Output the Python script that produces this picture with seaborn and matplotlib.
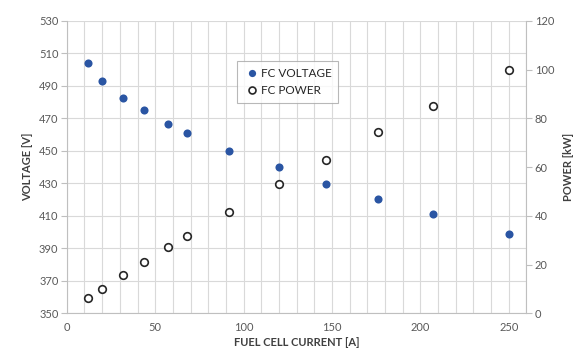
import matplotlib
matplotlib.use("Agg")
import matplotlib.pyplot as plt
import seaborn as sns
import pandas as pd
from matplotlib.ticker import MultipleLocator
from matplotlib.lines import Line2D

current = [12, 20, 32, 43.5, 57.5, 68, 92, 120, 146.5, 176, 207, 250]
voltage = [504.2, 492.9, 482.5, 474.9, 466.3, 460.7, 450.1, 439.8, 429.4, 420.2, 411.3, 399]
power = [6.1, 10.1, 15.6, 20.9, 27.1, 31.6, 41.5, 53.0, 63.0, 74.2, 85.2, 99.9]
voltage_ticks = [350, 370, 390, 410, 430, 450, 470, 490, 510, 530]
power_ticks = [0, 20, 40, 60, 80, 100, 120]

df = pd.DataFrame({"current": current, "voltage": voltage, "power": power})

sns.set_style("white")
plt.rcParams['font.family'] = ['Lato', 'DejaVu Sans']

txt = "#595959"
lab = "#404040"
grid = "#d9d9d9"

fig, ax = plt.subplots(figsize=(5.76, 3.54), dpi=100)
fig.subplots_adjust(left=0.116, right=0.914, top=0.941, bottom=0.115)

ax2 = ax.twinx()

sns.scatterplot(data=df, x="current", y="voltage", ax=ax, color="#2a55a3",
                s=34, edgecolor="#2a55a3", linewidth=0, zorder=3, legend=False)
sns.scatterplot(data=df, x="current", y="power", ax=ax2, facecolor="white",
                edgecolor="#262626", s=30, linewidth=1.2, zorder=3, legend=False)

ax.set_xlim(0, 260)
ax.set_ylim(350, 530)
ax2.set_ylim(0, 120)
ax.xaxis.set_major_locator(MultipleLocator(50))
ax.xaxis.set_minor_locator(MultipleLocator(10))
ax.set_yticks(voltage_ticks)
ax2.set_yticks(power_ticks)

ax.grid(True, which="both", axis="x", color=grid, lw=0.8)
ax.grid(True, which="major", axis="y", color=grid, lw=0.8)
ax.set_axisbelow(True)

for a in (ax, ax2):
    for s in a.spines.values():
        s.set_color("#bfbfbf")
        s.set_linewidth(0.8)
    a.spines["top"].set_visible(False)
ax.spines["right"].set_visible(False)
ax2.spines["left"].set_visible(False)
ax2.spines["bottom"].set_visible(False)

ax.tick_params(axis="y", which="major", length=4, color="#bfbfbf", labelsize=8, labelcolor=txt, pad=2)
ax.tick_params(axis="x", which="both", length=0, labelsize=8, labelcolor=txt, pad=6)
ax2.tick_params(axis="y", length=4, color="#bfbfbf", labelsize=8, labelcolor=txt, pad=2)

ax.set_xlabel("FUEL CELL CURRENT [A]", fontsize=8, fontweight="bold", color=lab, labelpad=3)
ax.set_ylabel("VOLTAGE [V]", fontsize=8, fontweight="bold", color=lab, labelpad=4)
ax2.set_ylabel("POWER [kW]", fontsize=8, fontweight="bold", color=lab, labelpad=6)

handles = [
    Line2D([], [], marker="o", ls="none", color="#2a55a3", markersize=5.2, markeredgewidth=0),
    Line2D([], [], marker="o", ls="none", markerfacecolor="white", markeredgecolor="#262626",
           markersize=5.0, markeredgewidth=1.2),
]
leg = ax2.legend(handles, ["FC VOLTAGE", "FC POWER"], loc="upper left",
                 bbox_to_anchor=(0.370, 0.862), borderaxespad=0, frameon=True, fancybox=False,
                 fontsize=8.5, handletextpad=0.1, handlelength=1.4, borderpad=0.55,
                 labelspacing=0.55, labelcolor="#262626")
leg.get_frame().set_edgecolor("#a6a6a6")
leg.get_frame().set_linewidth(0.8)

fig.savefig("out.png", dpi=100, facecolor="white")
